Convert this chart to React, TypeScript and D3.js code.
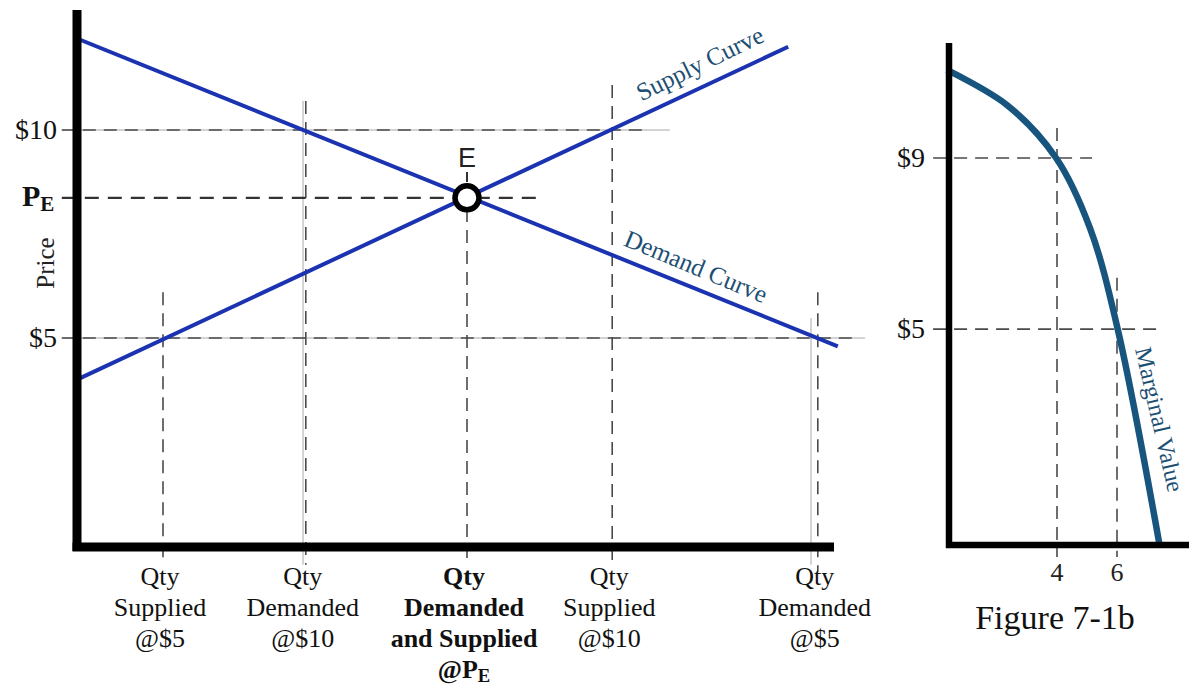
import React from "react";
import * as d3 from "d3";

// ---------- Data: left chart (supply & demand) ----------
const priceTicks = [10, 5];
const priceTickLabels = ["$10", "$5"];
const equilibriumPrice = 8.37;
const equilibriumQty = 48.75;
const demandCurve = [
  { q: 0, p: 12.2 },
  { q: 95.1, p: 4.8 },
];
const supplyCurve = [
  { q: 0, p: 4.0 },
  { q: 88.9, p: 12.0 },
];
const qtyMarks = [10.75, 28.6, 48.75, 66.9, 92.6];
const qtyLabelLines = [
  ["Qty", "Supplied", "@$5"],
  ["Qty", "Demanded", "@$10"],
  ["Qty", "Demanded", "and Supplied", "@P|E"],
  ["Qty", "Supplied", "@$10"],
  ["Qty", "Demanded", "@$5"],
];
const qtyLabelBold = [false, false, true, false, false];

// ---------- Data: right chart (marginal value) ----------
const mvCurve = [
  { q: 0.33, p: 11.06 },
  { q: 2.33, p: 10.24 },
  { q: 3.97, p: 9.0 },
  { q: 5.1, p: 7.36 },
  { q: 6.03, p: 4.98 },
  { q: 7.43, p: -0.09 },
];
const mvPriceTicks = [9, 5];
const mvPriceLabels = ["$9", "$5"];
const mvQtyTicks = [4, 6];
const mvQtyLabels = ["4", "6"];

const SERIF = "'Liberation Serif', 'Times New Roman', serif";
const SANS = "'Liberation Sans', 'DejaVu Sans', sans-serif";
const BLUE = "#1b33b0";
const TEAL = "#17557f";
const LABEL = "#1d4f73";
const DASH = "#4a4a4a";

export default function App() {
  const xL = d3.scaleLinear().domain([0, 100]).range([77, 877]);
  const yL = d3.scaleLinear().domain([0, 10]).range([546, 130]);
  const xR = d3.scaleLinear().domain([0, 8]).range([937, 1177]);
  const yR = d3.scaleLinear().domain([0, 9]).range([543, 158]);

  const lineL = d3
    .line<{ q: number; p: number }>()
    .x((d) => xL(d.q))
    .y((d) => yL(d.p));
  const lineR = d3
    .line<{ q: number; p: number }>()
    .x((d) => xR(d.q))
    .y((d) => yR(d.p))
    .curve(d3.curveCatmullRom.alpha(0.5));

  const dash = { stroke: DASH, strokeWidth: 1.6, strokeDasharray: "13 8", fill: "none" } as const;
  const grey = { stroke: "#a8a8a8", strokeWidth: 1, fill: "none" } as const;

  const hEnds = [71.6, 97];
  const hGreyEnds = [74.1, 98.5];
  const vTops = [6.1, 10.7, 8.1, 11.08, 6.1];
  const vBottoms = [-0.34, -0.45, -0.34, -0.34, -0.62];

  const ex = xL(equilibriumQty);
  const ey = yL(equilibriumPrice);

  const renderLabel = (s: string, size: number) => {
    if (s.includes("|")) {
      const [a, b] = s.split("|");
      return (
        <>
          {a}
          <tspan fontSize={size * 0.72} dy={4}>
            {b}
          </tspan>
        </>
      );
    }
    return s;
  };

  return (
    <svg width={1189} height={688} style={{ position: "absolute", left: 0, top: 0, background: "#fff" }}>
      {/* ---------------- LEFT CHART ---------------- */}
      {priceTicks.map((p, i) => (
        <line key={"hg" + i} x1={xL(-1.9)} x2={xL(hGreyEnds[i])} y1={yL(p)} y2={yL(p)} {...grey} />
      ))}
      <line x1={xL(28.25)} x2={xL(28.25)} y1={yL(10.7)} y2={yL(-0.45)} {...grey} />
      <line x1={xL(91.75)} x2={xL(91.75)} y1={yL(5.48)} y2={yL(-0.45)} {...grey} />

      {priceTicks.map((p, i) => (
        <line key={"hd" + i} x1={xL(-1.9)} x2={xL(hEnds[i])} y1={yL(p)} y2={yL(p)} {...dash} />
      ))}
      <line
        x1={xL(-1.9)}
        x2={xL(57.9)}
        y1={ey}
        y2={ey}
        stroke="#333"
        strokeWidth={2.2}
        strokeDasharray="14 9"
      />

      {qtyMarks.map((q, i) => (
        <line key={"vd" + i} x1={xL(q)} x2={xL(q)} y1={yL(vTops[i])} y2={yL(vBottoms[i])} {...dash} />
      ))}
      <line x1={ex} x2={ex} y1={172} y2={182} stroke="#333" strokeWidth={2} />

      <path d={lineL(demandCurve) || ""} stroke={BLUE} strokeWidth={4} fill="none" />
      <path d={lineL(supplyCurve) || ""} stroke={BLUE} strokeWidth={4} fill="none" />

      <line x1={77} x2={77} y1={10} y2={551} stroke="#000" strokeWidth={9} />
      <line x1={72.5} x2={834} y1={547} y2={547} stroke="#000" strokeWidth={9} />

      <circle cx={ex} cy={ey} r={12} fill="#fff" stroke="#000" strokeWidth={5.5} />
      <text x={ex} y={167} textAnchor="middle" fontFamily={SANS} fontSize={27} fill="#222">
        E
      </text>

      <text
        transform={`translate(701,66) rotate(-26)`}
        textAnchor="middle"
        dominantBaseline="middle"
        fontFamily={SERIF}
        fontSize={25}
        fill={LABEL}
      >
        Supply Curve
      </text>
      <text
        transform={`translate(695,269) rotate(22.5)`}
        textAnchor="middle"
        dominantBaseline="middle"
        fontFamily={SERIF}
        fontSize={25}
        fill={LABEL}
      >
        Demand Curve
      </text>

      {priceTicks.map((p, i) => (
        <text
          key={"yl" + i}
          x={57}
          y={yL(p) + 9}
          textAnchor="end"
          fontFamily={SERIF}
          fontSize={28}
          fill="#111"
        >
          {priceTickLabels[i]}
        </text>
      ))}
      <text x={22} y={ey + 8} fontFamily={SERIF} fontSize={30} fontWeight="bold" fill="#111">
        P
        <tspan fontSize={21} dy={5}>
          E
        </tspan>
      </text>
      <text
        transform={`translate(54,263) rotate(-90)`}
        textAnchor="middle"
        fontFamily={SERIF}
        fontSize={25}
        fill="#222"
      >
        Price
      </text>

      {qtyMarks.map((q, i) => (
        <text
          key={"xl" + i}
          textAnchor="middle"
          fontFamily={SERIF}
          fontSize={26}
          fontWeight={qtyLabelBold[i] ? "bold" : "normal"}
          fill="#111"
        >
          {qtyLabelLines[i].map((s, j) => (
            <tspan key={j} x={xL(q) - 3} y={585 + j * 31}>
              {renderLabel(s, 26)}
            </tspan>
          ))}
        </text>
      ))}

      {/* ---------------- RIGHT CHART ---------------- */}
      {mvPriceTicks.map((p, i) => (
        <line
          key={"rh" + i}
          x1={xR(-0.13)}
          x2={xR(i === 0 ? 5.17 : 7.53)}
          y1={yR(p)}
          y2={yR(p)}
          {...dash}
        />
      ))}
      {mvQtyTicks.map((q, i) => (
        <line
          key={"rv" + i}
          x1={xR(q)}
          x2={xR(q)}
          y1={yR(i === 0 ? 9.7 : 6.2)}
          y2={yR(-0.33)}
          {...dash}
        />
      ))}
      <path d={lineR(mvCurve) || ""} stroke={TEAL} strokeWidth={6.5} fill="none" />
      <line x1={949} x2={949} y1={43} y2={548} stroke="#000" strokeWidth={6.5} />
      <line x1={946} x2={1189} y1={545} y2={545} stroke="#000" strokeWidth={6.5} />

      {mvPriceTicks.map((p, i) => (
        <text
          key={"rl" + i}
          x={925}
          y={yR(p) + 9}
          textAnchor="end"
          fontFamily={SERIF}
          fontSize={28}
          fill="#111"
        >
          {mvPriceLabels[i]}
        </text>
      ))}
      {mvQtyTicks.map((q, i) => (
        <text
          key={"rq" + i}
          x={xR(q)}
          y={581}
          textAnchor="middle"
          fontFamily={SERIF}
          fontSize={26}
          fill="#222"
        >
          {mvQtyLabels[i]}
        </text>
      ))}
      <text
        transform={`translate(1157,420) rotate(77)`}
        textAnchor="middle"
        dominantBaseline="middle"
        fontFamily={SERIF}
        fontSize={24}
        fill={LABEL}
      >
        Marginal Value
      </text>
      <text x={1055} y={629} textAnchor="middle" fontFamily={SERIF} fontSize={34} fill="#111">
        Figure 7-1b
      </text>
    </svg>
  );
}
